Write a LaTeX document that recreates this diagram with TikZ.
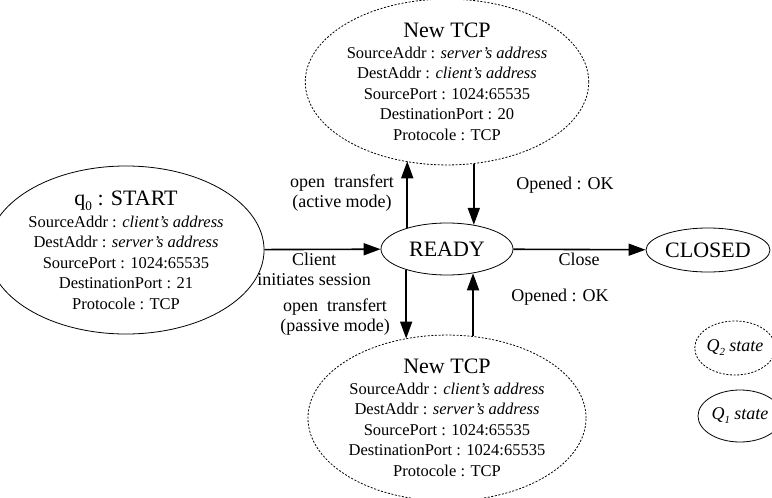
\documentclass[tikz,border=0pt]{standalone}
\usepackage{fontspec}
\setmainfont{Liberation Serif}
\usetikzlibrary{shapes.geometric,arrows.meta}

\newcommand{\titlefont}{\fontsize{22}{20.5}\selectfont}
\newcommand{\bodyfont}{\fontsize{16.5}{20.5}\selectfont}
\newcommand{\lblfont}{\fontsize{18}{20}\selectfont}
\newcommand{\lowsub}[1]{\raisebox{-0.22em}{\fontsize{0.6em}{1em}\selectfont #1}}

\tikzset{
  state/.style={ellipse, draw, line width=0.8pt, inner sep=0pt, align=center, font=\bodyfont},
  newstate/.style={state, dash pattern=on 2pt off 1.6pt},
  trans/.style={line width=1.6pt, -{Triangle[length=17pt,width=12pt]}},
  lbl/.style={align=center, font=\lblfont, inner sep=0pt}
}

\begin{document}
\begin{tikzpicture}[x=1pt, y=-1pt]
        \useasboundingbox (0, 0) rectangle (772, 498);

        \node[state, minimum width=248, minimum height=154] (start) at (126, 250)
          {{\titlefont q\lowsub{0} : START}\\[1.5pt]
           SourceAddr : \textit{client’s address}\\
           DestAddr : \textit{server’s address}\\
           SourcePort : 1024:65535\\
           DestinationPort : 21\\
           Protocole : TCP};
        \node[state, minimum width=132, minimum height=52, font=\titlefont] (ready) at (447, 249) {READY};
        \node[state, minimum width=124, minimum height=44, font=\titlefont] (closed) at (708, 250) {CLOSED};
        \node[newstate, minimum width=236, minimum height=158] (tcpup) at (447, 82)
          {{\titlefont New TCP}\\
           SourceAddr : \textit{server's address}\\
           DestAddr : \textit{client's address}\\
           SourcePort : 1024:65535\\
           DestinationPort : 20\\
           Protocole : TCP};
        \node[newstate, minimum width=244, minimum height=156] (tcpdown) at (447, 418)
          {{\titlefont New TCP}\\
           SourceAddr : \textit{client's address}\\
           DestAddr : \textit{server's address}\\
           SourcePort : 1024:65535\\
           DestinationPort : 1024:65535\\
           Protocole : TCP};
        \node[newstate, minimum width=74, minimum height=54, font=\lblfont\itshape] (qtwo) at (735, 348) {Q\lowsub{2} state};
        \node[state, minimum width=84, minimum height=52, font=\lblfont\itshape] (qone) at (740, 416) {Q\lowsub{1} state};

        \draw[trans] (start) -- (ready);
        \draw[trans] (ready) -- (closed);
        \draw[trans] (ready.152.6) -- (ready.152.6 |- tcpup.241.7);
        \draw[trans] (tcpup.288.6 -| ready.42.6) -- (ready.42.6);
        \draw[trans] (ready.207.4) -- (ready.207.4 |- tcpdown.118.5);
        \draw[trans] (tcpdown.71.2 -| ready.317.4) -- (ready.317.4);

        \node[lbl] (activelbl) at (342, 193) {open\ \ transfert\\(active mode)};
        \node[lbl] (openuplbl) at (565, 185) {Opened : OK};
        \node[lbl] (clientlbl) at (314, 269) {Client\\initiates session};
        \node[lbl] (closelbl) at (579, 259) {Close};
        \node[lbl] (opendownlbl) at (560, 297) {Opened : OK};
        \node[lbl] (passivelbl) at (335, 317) {open\ \ transfert\\(passive mode)};

    \end{tikzpicture}
\end{document}
